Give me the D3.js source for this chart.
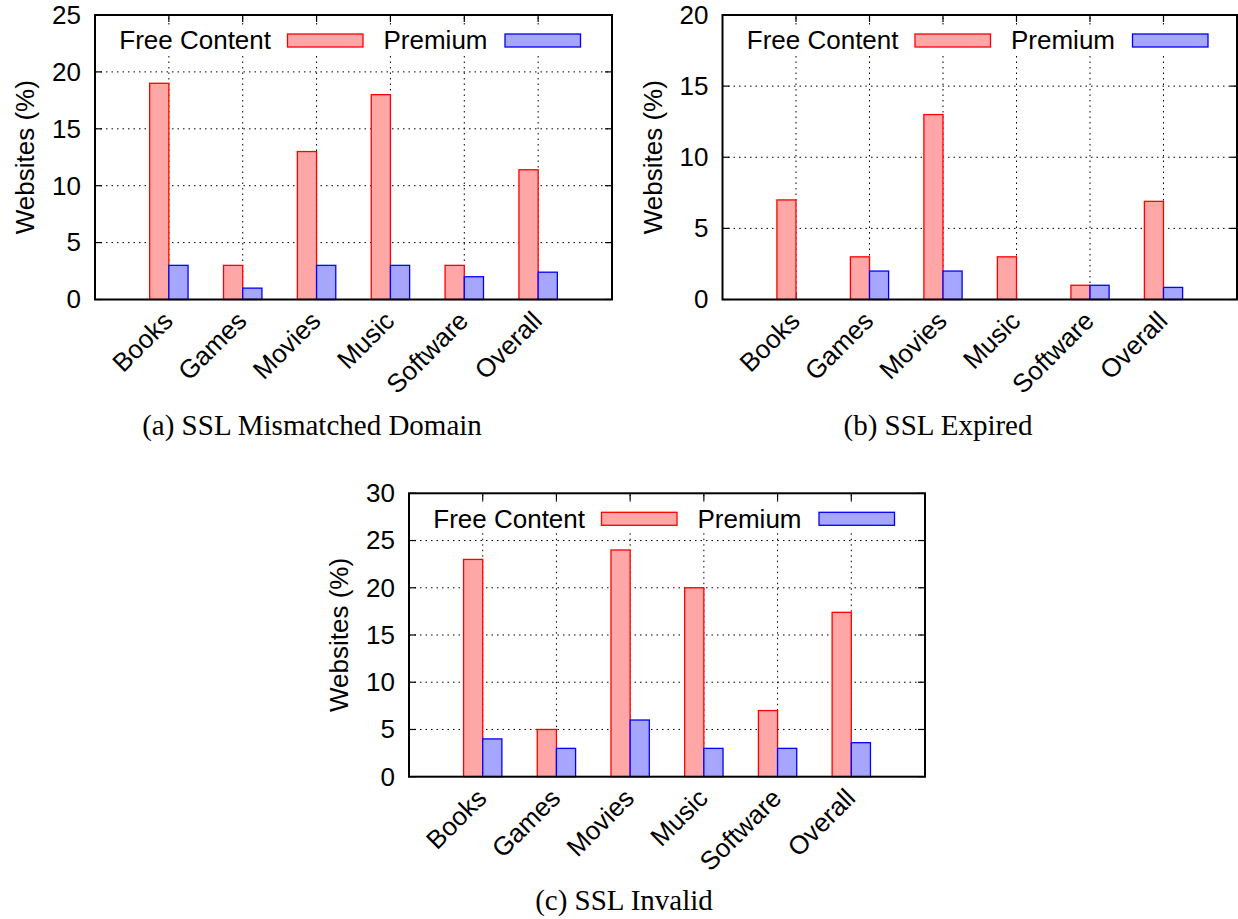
<!DOCTYPE html>
<html>
<head>
<meta charset="utf-8">
<script src="https://cdn.jsdelivr.net/npm/d3@7"></script>
<style>
  html, body { margin: 0; padding: 0; background: #fff; }
  svg { display: block; }
  .tick text { font-family: "Liberation Sans", Arial, Helvetica, sans-serif; }
</style>
</head>
<body>
<svg id="fig" width="1238" height="919"></svg>
<script>
// Category labels shared by all three panels
const categories = ["Books", "Games", "Movies", "Music", "Software", "Overall"];

// (a) SSL Mismatched Domain
const mismatchedFree    = [19, 3, 13, 18, 3, 11.4];
const mismatchedPremium = [3, 1, 3, 3, 2, 2.4];
const mismatchedTicks   = [0, 5, 10, 15, 20, 25];

// (b) SSL Expired
const expiredFree    = [7, 3, 13, 3, 1, 6.9];
const expiredPremium = [0, 2, 2, 0, 1, 0.85];
const expiredTicks   = [0, 5, 10, 15, 20];

// (c) SSL Invalid
const invalidFree    = [23, 5, 24, 20, 7, 17.4];
const invalidPremium = [4, 3, 6, 3, 3, 3.6];
const invalidTicks   = [0, 5, 10, 15, 20, 25, 30];

const seriesNames = ["Free Content", "Premium"];
const captions = ["(a) SSL Mismatched Domain", "(b) SSL Expired", "(c) SSL Invalid"];

const SANS = '"Liberation Sans", Arial, Helvetica, sans-serif';
const SERIF = '"Liberation Serif", "Times New Roman", Times, serif';
const FS = 26;
const fills = ["#ffa6a6", "#a6a6ff"];
const strokes = ["#ff0000", "#0000ff"];
const BAR_W = 0.26; // bar width in category units

const svg = d3.select("#fig");

const panels = [
  { left: 95,  right: 612,  top: 15,    bottom: 299.5, free: mismatchedFree, premium: mismatchedPremium, ticks: mismatchedTicks, caption: captions[0], capX: 312, capY: 435 },
  { left: 722.5, right: 1237, top: 15,  bottom: 299.5, free: expiredFree,    premium: expiredPremium,    ticks: expiredTicks,    caption: captions[1], capX: 938, capY: 435 },
  { left: 409, right: 925,  top: 493.3, bottom: 776.7, free: invalidFree,    premium: invalidPremium,    ticks: invalidTicks,    caption: captions[2], capX: 624, capY: 910 }
];

panels.forEach(p => {
  const g = svg.append("g");
  const x = d3.scaleLinear().domain([-1, 6]).range([p.left, p.right]);
  const y = d3.scaleLinear().domain([0, d3.max(p.ticks)]).range([p.bottom, p.top]);
  const legendY = p.top + 25.5;

  // dotted grid
  const grid = g.append("g").attr("stroke", "#000").attr("stroke-width", 1)
    .attr("stroke-dasharray", "1.5,4").attr("fill", "none");
  p.ticks.slice(1, -1).forEach(t => {
    grid.append("line").attr("x1", p.left).attr("x2", p.right)
      .attr("y1", y(t)).attr("y2", y(t));
  });
  categories.forEach((c, i) => {
    grid.append("line").attr("x1", x(i)).attr("x2", x(i))
      .attr("y1", p.bottom).attr("y2", p.top);
  });

  // short solid tick marks on all four sides
  const tk = g.append("g").attr("stroke", "#000").attr("stroke-width", 1.2);
  p.ticks.forEach(t => {
    tk.append("line").attr("x1", p.left).attr("x2", p.left + 7).attr("y1", y(t)).attr("y2", y(t));
    tk.append("line").attr("x1", p.right - 7).attr("x2", p.right).attr("y1", y(t)).attr("y2", y(t));
  });
  categories.forEach((c, i) => {
    tk.append("line").attr("x1", x(i)).attr("x2", x(i)).attr("y1", p.bottom).attr("y2", p.bottom - 7);
    tk.append("line").attr("x1", x(i)).attr("x2", x(i)).attr("y1", p.top).attr("y2", p.top + 7);
  });

  // opaque legend
  const key = g.append("g");
  key.append("rect").attr("x", p.left + 14).attr("y", legendY - 13.5)
    .attr("width", 480).attr("height", 27).attr("fill", "#fff");
  const keyItems = [
    { name: seriesNames[0], textEnd: p.left + 176, box: p.left + 192.5 },
    { name: seriesNames[1], textEnd: p.left + 392.5, box: p.left + 410 }
  ];
  keyItems.forEach((k, j) => {
    key.append("text").attr("x", k.textEnd).attr("y", legendY + 8.8)
      .attr("text-anchor", "end").attr("font-family", SANS).attr("font-size", FS)
      .text(k.name);
    key.append("rect").attr("x", k.box).attr("y", legendY - 6.5)
      .attr("width", 75.5).attr("height", 13)
      .attr("fill", fills[j]).attr("stroke", strokes[j]).attr("stroke-width", 1.3);
  });

  // bars
  [p.free, p.premium].forEach((vals, j) => {
    g.append("g").selectAll("rect").data(vals).join("rect")
      .attr("x", (d, i) => j === 0 ? x(i - BAR_W) : x(i))
      .attr("width", x(BAR_W) - x(0))
      .attr("y", d => y(d))
      .attr("height", d => y(0) - y(d))
      .attr("fill", fills[j]).attr("stroke", strokes[j]).attr("stroke-width", 1.3);
  });

  // frame
  g.append("rect").attr("x", p.left).attr("y", p.top)
    .attr("width", p.right - p.left).attr("height", p.bottom - p.top)
    .attr("fill", "none").attr("stroke", "#000").attr("stroke-width", 2);

  // y axis labels
  const ya = g.append("g").attr("transform", `translate(${p.left},0)`)
    .call(d3.axisLeft(y).tickValues(p.ticks).tickSize(0).tickPadding(14).tickFormat(d3.format("d")));
  ya.select(".domain").remove();
  ya.selectAll("text").attr("font-size", FS).attr("fill", "#000").attr("font-family", SANS);

  // x axis labels, rotated
  const xa = g.append("g").attr("transform", `translate(0,${p.bottom})`)
    .call(d3.axisBottom(x).tickValues(d3.range(categories.length)).tickSize(0)
      .tickFormat(i => categories[i]));
  xa.select(".domain").remove();
  xa.selectAll("text")
    .attr("font-size", FS).attr("fill", "#000").attr("font-family", SANS)
    .attr("text-anchor", "end").attr("dy", null).attr("y", null)
    .attr("transform", "translate(5,23) rotate(-45)");

  // y axis title
  g.append("text")
    .attr("transform", `translate(${p.left - 61},${(p.top + p.bottom) / 2}) rotate(-90)`)
    .attr("text-anchor", "middle").attr("font-family", SANS).attr("font-size", FS)
    .text("Websites (%)");

  // caption
  svg.append("text").attr("x", p.capX).attr("y", p.capY)
    .attr("text-anchor", "middle").attr("font-family", SERIF).attr("font-size", 29)
    .text(p.caption);
});
</script>
</body>
</html>
